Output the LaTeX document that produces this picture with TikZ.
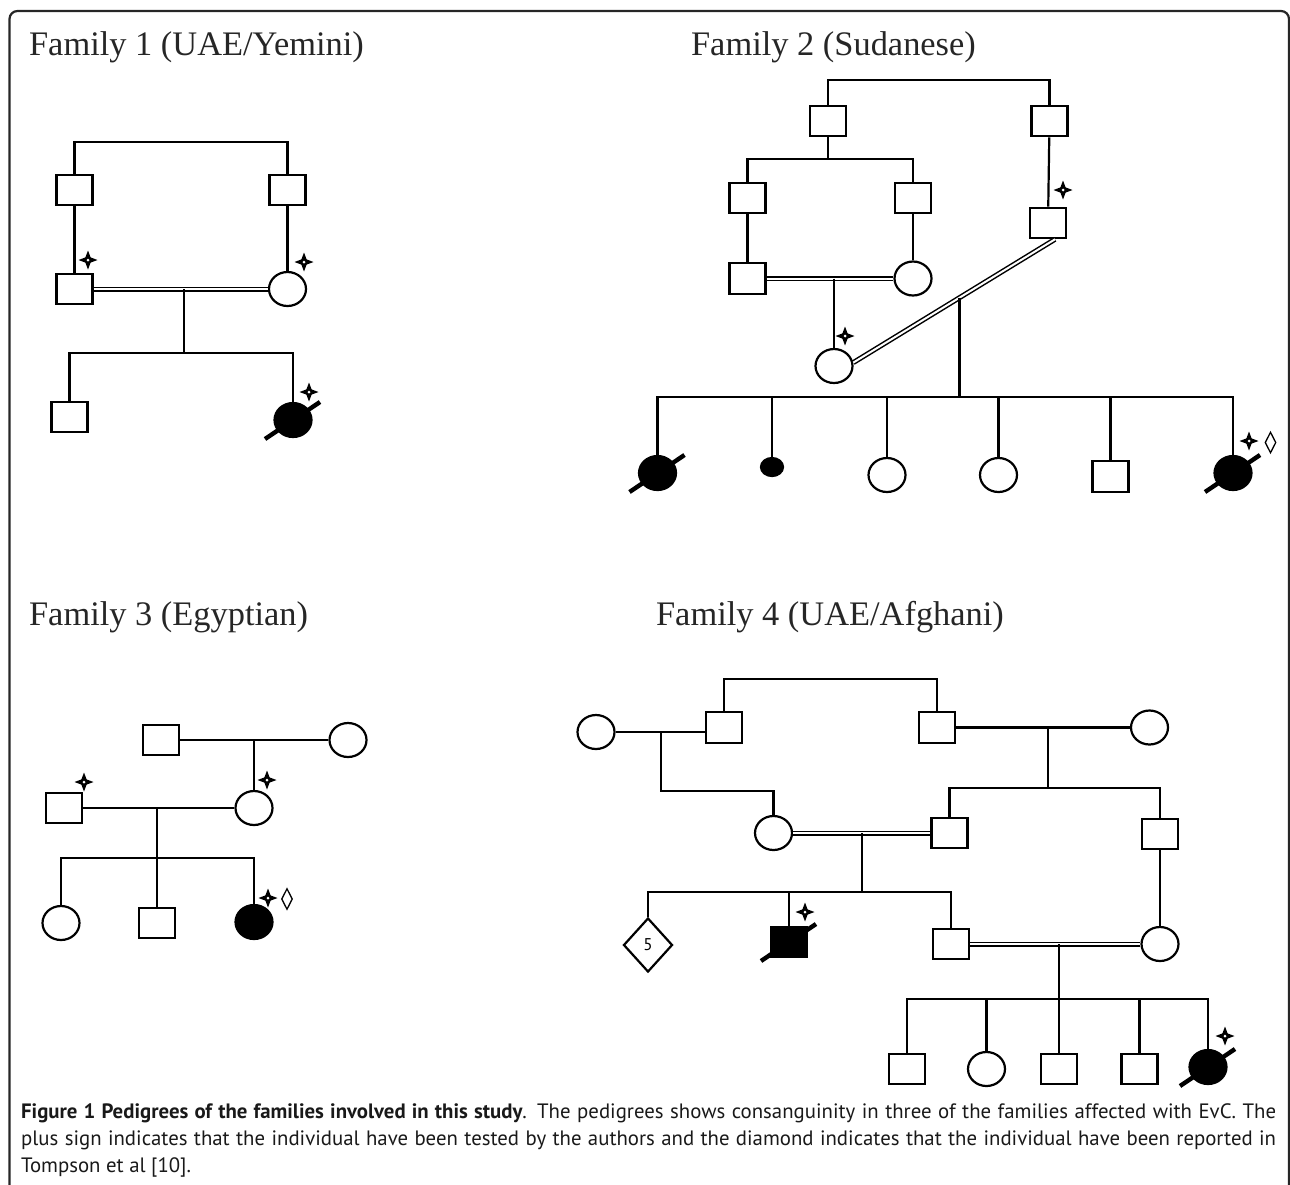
\documentclass[tikz,border=0pt]{standalone}
\usepackage{fontspec}
\setmainfont{Liberation Serif}
\setsansfont{PT Sans}
\usetikzlibrary{shapes.geometric,calc}

\begin{document}
\begin{tikzpicture}[x=0.5pt, y=-0.5pt, line width=1.1pt,
            male/.style={draw, rectangle, minimum width=18pt, minimum height=15.2pt, inner sep=0pt},
            female/.style={draw, ellipse, minimum width=18.5pt, minimum height=17pt, inner sep=0pt},
            affected/.style={fill=black},
            loss/.style={draw, ellipse, fill=black, minimum width=11pt, minimum height=9pt, inner sep=0pt},
            multi/.style={draw, diamond, minimum width=24.5pt, minimum height=27pt, inner sep=0pt,
                font=\sffamily\fontsize{8.5}{8.5}\selectfont},
            reported/.style={draw, diamond, minimum width=5.5pt, minimum height=10.5pt, inner sep=0pt,
                line width=0.65pt},
            consang/.style={double, double distance=1pt, line width=0.75pt},
            deadslash/.style={line width=2.2pt},
            famtitle/.style={anchor=base west, inner sep=0pt, text=black!85,
                font=\fontsize{17.2}{20}\selectfont},
            capline/.style={anchor=base west, inner sep=0pt, text=black!90,
                font=\sffamily\fontsize{10.4}{12}\selectfont},
            plusmark/.pic={
                \fill (0,-9.5) -- (2.6,-2.6) -- (9.5,0) -- (2.6,2.6) -- (0,9.5) -- (-2.6,2.6)
                    -- (-9.5,0) -- (-2.6,-2.6) -- cycle;
                \fill[white] (0,0) circle[radius=1.5];
            }]

    \useasboundingbox (0,0) rectangle (1290,1184);
    \draw[black!85, rounded corners=4pt] (9.5,1200) -- (9.5,11) -- (1289,11) -- (1289,1200);

    % family 1
    \node[famtitle] (t1) at (28,55) {Family 1 (UAE/Yemini)};
    \node[male] (f1a) at (74.5,190) {};
    \node[male] (f1b) at (287.5,190) {};
    \node[male] (f1c) at (74.5,289) {};
    \node[female] (f1d) at (287.5,289) {};
    \node[male] (f1e) at (69.5,417) {};
    \node[female, affected] (f1f) at (293,420) {};
    \coordinate (f1m) at (184,289);
    \coordinate (f1s) at (184,353);

    \draw (f1a) -- ++(0,-48) -| (f1b);
    \draw (f1a) -- (f1c);
    \draw (f1b) -- (f1d);
    \draw[consang] (f1c) -- (f1d);
    \draw (f1m) -- (f1s);
    \draw (f1e) |- (f1s) -| (f1f);
    \draw[deadslash] ($(f1f)+(-28,19)$) -- ($(f1f)+(27,-18)$);
    \pic at (88,260) {plusmark};
    \pic at (304,262) {plusmark};
    \pic at (309,392) {plusmark};

    % family 2
    \node[famtitle] (t2) at (690,55) {Family 2 (Sudanese)};
    \node[male] (f2a) at (828,121) {};
    \node[male] (f2b) at (1049.5,121) {};
    \node[male] (f2c) at (747.5,198) {};
    \node[male] (f2d) at (913,198) {};
    \node[male] (f2e) at (1048,223) {};
    \node[male] (f2f) at (747.5,278.5) {};
    \node[female] (f2g) at (913,278.5) {};
    \node[female] (f2h) at (834,366) {};
    \coordinate (f2s1) at (828,159);
    \coordinate (f2m1) at (834,278.5);
    \coordinate (f2s2) at (959,397);

    \draw (f2a) -- ++(0,-41) -| (f2b);
    \draw (f2a) -- (f2s1);
    \draw (f2c) |- (f2s1) -| (f2d);
    \draw (f2b) -- (f2e);
    \draw (f2c) -- (f2f);
    \draw (f2d) -- (f2g);
    \draw[consang] (f2f) -- (f2g);
    \draw (f2m1) -- (f2h);
    \draw[consang] (f2h.10) -- coordinate[pos=0.527] (f2m2) ([xshift=3.5pt]f2e.south);
    \draw (f2m2) -- (f2m2 |- f2s2);

    \node[female, affected] (f2c1) at (657.5,473) {};
    \node[loss] (f2c2) at (772,467) {};
    \node[female] (f2c3) at (887,475) {};
    \node[female] (f2c4) at (998.5,475) {};
    \node[male] (f2c5) at (1110.5,476.5) {};
    \node[female, affected] (f2c6) at (1233,473) {};
    \draw (f2c1) |- (f2s2) -| (f2c6);
    \foreach \k in {2,...,5}
        \draw (f2c\k) -- (f2c\k |- f2s2);
    \draw[deadslash] ($(f2c1)+(-28,19)$) -- ($(f2c1)+(27,-18)$);
    \draw[deadslash] ($(f2c6)+(-28,19)$) -- ($(f2c6)+(27,-18)$);
    \pic at (1063,190) {plusmark};
    \pic at (845,336) {plusmark};
    \pic at (1249,441) {plusmark};
    \node[reported] (f2r) at (1270.5,442.5) {};

    % family 3
    \node[famtitle] (t3) at (28,625) {Family 3 (Egyptian)};
    \node[male] (f3a) at (161,740) {};
    \node[female] (f3b) at (348,740) {};
    \node[female] (f3c) at (254,808) {};
    \node[male] (f3d) at (64,808) {};
    \coordinate (f3m1) at (254,740);
    \coordinate (f3m2) at (157,808);
    \coordinate (f3s) at (157,858);
    \node[female] (f3e) at (61,923) {};
    \node[male] (f3f) at (157,923) {};
    \node[female, affected] (f3g) at (254,922) {};

    \draw (f3a) -- (f3b);
    \draw (f3m1) -- (f3c);
    \draw (f3d) -- (f3c);
    \draw (f3m2) -- (f3f);
    \draw (f3e) |- (f3s) -| (f3g);
    \pic at (84,782) {plusmark};
    \pic at (267,780) {plusmark};
    \pic at (268,898) {plusmark};
    \node[reported] (f3r) at (287,899) {};

    % family 4
    \node[famtitle] (t4) at (655,625) {Family 4 (UAE/Afghani)};
    \node[male] (f4a) at (724,727.5) {};
    \node[male] (f4b) at (937,727.5) {};
    \node[female] (f4c) at (596,732) {};
    \node[female] (f4d) at (1149.5,727.5) {};
    \node[female] (f4e) at (773.5,833) {};
    \node[male] (f4f) at (949.5,833) {};
    \node[male] (f4g) at (1160,834) {};
    \coordinate (f4m1) at (661,732);
    \coordinate (f4m2) at (1048,727.5);
    \coordinate (f4s1) at (1048,788);
    \coordinate (f4m3) at (862,833);
    \coordinate (f4s2) at (862,892);

    \draw (f4a) -- ++(0,-48.5) -| (f4b);
    \draw (f4c) -- (f4c -| f4a.west);
    \draw (f4m1) -- ++(0,59) -| (f4e);
    \draw (f4b) -- (f4d);
    \draw (f4m2) -- (f4s1);
    \draw (f4f) |- (f4s1) -| (f4g);
    \draw[consang] (f4e) -- (f4f);
    \draw (f4m3) -- (f4s2);

    \node[multi] (f4h) at (648,945) {5};
    \node[male, affected] (f4i) at (789,942) {};
    \node[male] (f4j) at (951,944) {};
    \node[female] (f4k) at (1160,944) {};
    \coordinate (f4m4) at (1059,944);
    \coordinate (f4s3) at (1059,999);
    \draw (f4h) |- (f4s2) -| (f4j);
    \draw (f4i) -- (f4i |- f4s2);
    \draw (f4g) -- (f4k);
    \draw[consang] (f4j) -- (f4k);
    \draw[deadslash] ($(f4i)+(-28,19)$) -- ($(f4i)+(27,-18)$);
    \pic at (805,912) {plusmark};

    \node[male] (f4l1) at (907,1069) {};
    \node[female] (f4l2) at (986.5,1069) {};
    \node[male] (f4l3) at (1059,1069) {};
    \node[male] (f4l4) at (1139.5,1069) {};
    \node[female, affected] (f4l5) at (1208,1067) {};
    \draw (f4l1) |- (f4s3) -| (f4l5);
    \draw (f4l2) -- (f4l2 |- f4s3);
    \draw (f4l4) -- (f4l4 |- f4s3);
    \draw (f4m4) -- (f4l3);
    \draw[deadslash] ($(f4l5)+(-28,19)$) -- ($(f4l5)+(27,-18)$);
    \pic at (1225,1036) {plusmark};

    % caption
    \node[capline] (cap1) at (20,1118) {\makebox[627.5pt][s]{\textbf{Figure 1 Pedigrees of the families involved in this study}. The pedigrees shows consanguinity in three of the families affected with EvC. The}};
    \node[capline] (cap2) at (20,1145) {\makebox[627.5pt][s]{plus sign indicates that the individual have been tested by the authors and the diamond indicates that the individual have been reported in}};
    \node[capline] (cap3) at (20,1172) {Tompson et al [10].};
\end{tikzpicture}
\end{document}
